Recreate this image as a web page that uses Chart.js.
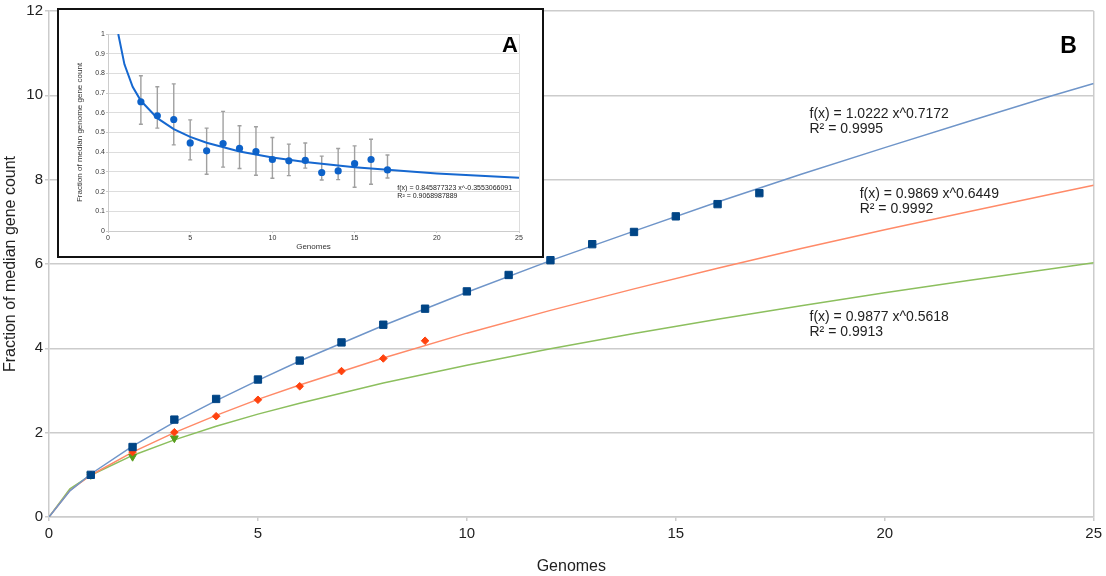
<!DOCTYPE html>
<html>
<head>
<meta charset="utf-8">
<script src="https://cdn.jsdelivr.net/npm/chart.js@4.4.1/dist/chart.umd.min.js"></script>
<style>
  body { margin: 0; background: #fff; }
  #wrap { position: relative; width: 1106px; height: 576px; }
  #inset {
    position: absolute; left: 57px; top: 8px;
    width: 483px; height: 246px;
    border: 2px solid #111; background: #fff;
  }
</style>
</head>
<body>
<div id="wrap">
  <canvas id="mainChart" width="1106" height="576"></canvas>
  <div id="inset"><canvas id="insetChart" width="483" height="246"></canvas></div>
</div>
<script>
// main panel (B): observed points
const genomesBlue = [1, 2, 3, 4, 5, 6, 7, 8, 9, 10, 11, 12, 13, 14, 15, 16, 17];
const valuesBlue = [1.00, 1.66, 2.31, 2.80, 3.26, 3.71, 4.14, 4.56, 4.94, 5.35, 5.74, 6.09, 6.47, 6.76, 7.13, 7.42, 7.68];
const genomesOrange = [1, 2, 3, 4, 5, 6, 7, 8, 9];
const valuesOrange = [1.00, 1.54, 2.01, 2.39, 2.78, 3.10, 3.46, 3.76, 4.18];
const genomesGreen = [1, 2, 3];
const valuesGreen = [1.00, 1.43, 1.87];

// main panel: trend lines
const trendX = [0, 0.5, 1, 2, 3, 4, 5, 6, 8, 10, 12, 14, 16, 18, 20, 22, 24, 25];
const trendBlue = [0, 0.62, 1.02, 1.68, 2.25, 2.76, 3.24, 3.70, 4.54, 5.33, 6.08, 6.78, 7.47, 8.13, 8.76, 9.38, 9.99, 10.28];
const trendOrange = [0, 0.63, 0.99, 1.54, 2.00, 2.41, 2.79, 3.13, 3.77, 4.36, 4.90, 5.41, 5.90, 6.37, 6.81, 7.24, 7.66, 7.87];
const trendGreen = [0, 0.67, 0.99, 1.46, 1.83, 2.15, 2.44, 2.70, 3.18, 3.60, 3.99, 4.35, 4.69, 5.01, 5.32, 5.61, 5.89, 6.03];

const mainNotes = [
  { x: 18.2, y: 9.55, lines: ['f(x) = 1.0222 x^0.7172', 'R² = 0.9995'] },
  { x: 19.4, y: 7.65, lines: ['f(x) = 0.9869 x^0.6449', 'R² = 0.9992'] },
  { x: 18.2, y: 4.75, lines: ['f(x) = 0.9877 x^0.5618', 'R² = 0.9913'] }
];

// inset panel (A)
const insetGenomes = [2, 3, 4, 5, 6, 7, 8, 9, 10, 11, 12, 13, 14, 15, 16, 17];
const insetMean = [0.656, 0.585, 0.566, 0.447, 0.407, 0.444, 0.419, 0.403, 0.363, 0.356, 0.358, 0.297, 0.305, 0.342, 0.363, 0.310];
const insetLow = [0.542, 0.522, 0.437, 0.361, 0.288, 0.324, 0.317, 0.283, 0.268, 0.281, 0.319, 0.259, 0.261, 0.222, 0.237, 0.269];
const insetHigh = [0.788, 0.732, 0.747, 0.564, 0.522, 0.607, 0.534, 0.529, 0.475, 0.441, 0.447, 0.380, 0.419, 0.432, 0.466, 0.386];
const insetTrendX = [0.624, 1, 1.5, 2, 3, 4, 5, 6, 8, 10, 12, 15, 20, 25];
const insetTrendY = [1.0, 0.846, 0.732, 0.661, 0.573, 0.517, 0.478, 0.448, 0.404, 0.373, 0.350, 0.323, 0.292, 0.270];

const FONT = "'Liberation Sans', Arial, sans-serif";
const GRID = '#cccccc';

function pts(xs, ys) {
  return xs.map((x, i) => ({ x: x, y: ys[i] }));
}

// draws text labels (formulas, panel letters) at data positions
const notesPlugin = {
  id: 'notes',
  afterDatasetsDraw(chart, args, opts) {
    const ctx = chart.ctx;
    const sx = chart.scales.x, sy = chart.scales.y;
    ctx.save();
    ctx.fillStyle = '#222';
    ctx.textBaseline = 'middle';
    ctx.textAlign = 'left';
    ctx.font = opts.size + 'px ' + FONT;
    (opts.notes || []).forEach(n => {
      n.lines.forEach((t, i) => {
        ctx.fillText(t, sx.getPixelForValue(n.x), sy.getPixelForValue(n.y) + i * opts.lineGap);
      });
    });
    if (opts.letter) {
      ctx.font = 'bold ' + opts.letter.size + 'px ' + FONT;
      ctx.fillStyle = '#000';
      ctx.textAlign = 'center';
      ctx.fillText(opts.letter.text, sx.getPixelForValue(opts.letter.x), sy.getPixelForValue(opts.letter.y));
    }
    ctx.restore();
  }
};

// error bars for the inset
const errorBarPlugin = {
  id: 'errorBars',
  beforeDatasetsDraw(chart, args, opts) {
    if (!opts.low) return;
    const ctx = chart.ctx;
    const sx = chart.scales.x, sy = chart.scales.y;
    ctx.save();
    ctx.strokeStyle = '#a0a0a0';
    ctx.lineWidth = 1.4;
    opts.xs.forEach((x, i) => {
      const px = sx.getPixelForValue(x);
      const lo = sy.getPixelForValue(opts.low[i]);
      const hi = sy.getPixelForValue(opts.high[i]);
      ctx.beginPath();
      ctx.moveTo(px, lo); ctx.lineTo(px, hi);
      ctx.moveTo(px - 2, lo); ctx.lineTo(px + 2, lo);
      ctx.moveTo(px - 2, hi); ctx.lineTo(px + 2, hi);
      ctx.stroke();
    });
    ctx.restore();
  }
};

new Chart(document.getElementById('mainChart').getContext('2d'), {
  type: 'line',
  data: {
    datasets: [
      { data: pts(genomesBlue, valuesBlue), showLine: false, pointStyle: 'rect',
        pointRadius: 5.2, backgroundColor: '#004586', borderColor: '#004586', borderWidth: 1 },
      { data: pts(genomesOrange, valuesOrange), showLine: false, pointStyle: 'rectRot',
        pointRadius: 3.8, backgroundColor: '#ff420e', borderColor: '#ff420e', borderWidth: 1 },
      { data: pts(genomesGreen, valuesGreen), showLine: false, pointStyle: 'triangle', rotation: 180,
        pointRadius: 4.5, backgroundColor: '#579d1c', borderColor: '#579d1c', borderWidth: 1 },
      { data: pts(trendX, trendBlue), borderColor: '#6f95c9', borderWidth: 1.5, pointRadius: 0, tension: 0 },
      { data: pts(trendX, trendOrange), borderColor: '#ff8a68', borderWidth: 1.5, pointRadius: 0, tension: 0 },
      { data: pts(trendX, trendGreen), borderColor: '#8cbf5e', borderWidth: 1.5, pointRadius: 0, tension: 0 }
    ]
  },
  options: {
    responsive: false,
    animation: false,
    devicePixelRatio: 1,
    layout: { padding: { top: 9, right: 11, left: 0, bottom: 0 } },
    plugins: {
      legend: { display: false },
      tooltip: { enabled: false },
      notes: { notes: mainNotes, size: 14, lineGap: 15, letter: { text: 'B', x: 24.4, y: 11.15, size: 23 } }
    },
    scales: {
      x: {
        type: 'linear', min: 0, max: 25,
        ticks: { stepSize: 5, padding: 4, color: '#222', font: { family: FONT, size: 15 } },
        grid: { color: c => (c.tick && c.tick.value === 25) ? GRID : 'rgba(0,0,0,0)', tickColor: GRID, tickLength: 4, lineWidth: 1.5 },
        border: { color: GRID, width: 1.5 },
        title: { display: true, text: 'Genomes', color: '#222', padding: { top: 0, bottom: 0 }, font: { family: FONT, size: 16 } },
        afterFit: s => { s.height = 59; }
      },
      y: {
        min: 0, max: 12,
        ticks: { stepSize: 2, padding: 2, color: '#222', font: { family: FONT, size: 15 } },
        grid: { color: GRID, tickColor: GRID, tickLength: 4, lineWidth: 1.5 },
        border: { color: GRID, width: 1.5 },
        title: { display: true, text: 'Fraction of median gene count', color: '#222', padding: { top: 1, bottom: 0 }, font: { family: FONT, size: 16 } },
        afterFit: s => { s.width = 49; }
      }
    }
  },
  plugins: [notesPlugin]
});

new Chart(document.getElementById('insetChart').getContext('2d'), {
  type: 'line',
  data: {
    datasets: [
      { data: pts(insetGenomes, insetMean), showLine: false, pointStyle: 'circle',
        pointRadius: 3.6, backgroundColor: '#0d62c9', borderColor: '#0d62c9', borderWidth: 0 },
      { data: pts(insetTrendX, insetTrendY), borderColor: '#1668d0', borderWidth: 2, pointRadius: 0, tension: 0 }
    ]
  },
  options: {
    responsive: false,
    animation: false,
    devicePixelRatio: 1,
    layout: { padding: { top: 24, right: 23, left: 0, bottom: 0 } },
    plugins: {
      legend: { display: false },
      tooltip: { enabled: false },
      errorBars: { xs: insetGenomes, low: insetLow, high: insetHigh },
      notes: {
        notes: [{ x: 17.6, y: 0.218, lines: ['f(x) = 0.845877323 x^-0.3553066091', 'R² = 0.9068987889'] }],
        size: 7, lineGap: 8, letter: { text: 'A', x: 24.45, y: 0.94, size: 22 }
      }
    },
    scales: {
      x: {
        type: 'linear', min: 0, max: 25,
        ticks: { stepSize: 5, padding: 1, color: '#333', font: { family: FONT, size: 7 } },
        grid: { color: c => (c.tick && c.tick.value === 25) ? '#dddddd' : 'rgba(0,0,0,0)', tickColor: '#cccccc', tickLength: 2, lineWidth: 1 },
        border: { color: '#cccccc', width: 1 },
        title: { display: true, text: 'Genomes', color: '#333', padding: { top: 0, bottom: 4 }, font: { family: FONT, size: 8 } },
        afterFit: s => { s.height = 25; }
      },
      y: {
        min: 0, max: 1,
        ticks: { stepSize: 0.1, padding: 1, color: '#333', font: { family: FONT, size: 7 },
          callback: v => String(Number(v.toFixed(1))) },
        grid: { color: '#dddddd', tickColor: '#cccccc', tickLength: 2, lineWidth: 1 },
        border: { color: '#cccccc', width: 1 },
        title: { display: true, text: 'Fraction of median genome gene count', color: '#333', padding: { top: 16, bottom: 0 }, font: { family: FONT, size: 8 } },
        afterFit: s => { s.width = 49; }
      }
    }
  },
  plugins: [errorBarPlugin, notesPlugin]
});
</script>
</body>
</html>
